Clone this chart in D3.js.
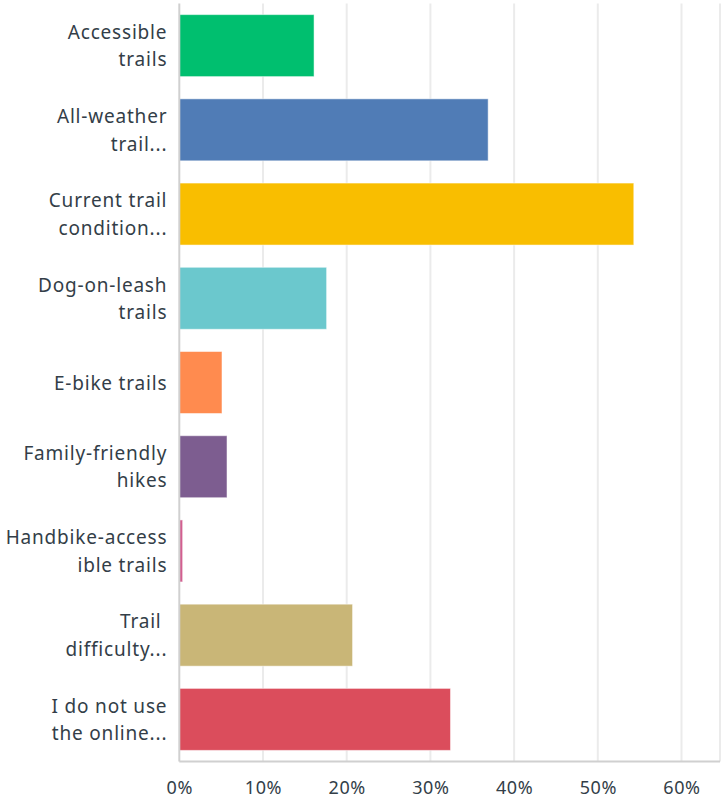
<!DOCTYPE html>
<html>
<head>
<meta charset="utf-8">
<script src="https://cdn.jsdelivr.net/npm/d3@7"></script>
<style>
body { margin: 0; background: #fff; }
text { font-family: "Noto Sans", "Open Sans", sans-serif; fill: #333e48; }
</style>
</head>
<body>
<div id="chart"></div>
<script>
// answer options (each label already wrapped into lines)
var labels = [
  ["Accessible", "trails"],
  ["All-weather", "trail..."],
  ["Current trail", "condition..."],
  ["Dog-on-leash", "trails"],
  ["E-bike trails"],
  ["Family-friendly", "hikes"],
  ["Handbike-access", "ible trails"],
  ["Trail ", "difficulty..."],
  ["I do not use", "the online..."]
];
var values = [0.161, 0.369, 0.543, 0.176, 0.051, 0.057, 0.004, 0.207, 0.324];
var colors = ["#00bf6f", "#507cb6", "#f9be00", "#6bc8cd", "#ff8b4f", "#7d5d90", "#d25f90", "#c9b677", "#db4d5c"];
var ticks = [0, 0.1, 0.2, 0.3, 0.4, 0.5, 0.6];

var svgWidth = 721;
var svgHeight = 800;
var margin = {top: 3.5, right: 1, bottom: 38.5, left: 179.3};
var width = svgWidth - margin.left - margin.right;
var height = svgHeight - margin.top - margin.bottom;

var svg = d3.select("#chart")
  .append("svg")
  .attr("width", svgWidth)
  .attr("height", svgHeight);

var chartGroup = svg.append("g")
  .attr("transform", `translate(${margin.left}, ${margin.top})`);

var xScale = d3.scaleLinear()
  .domain([0, 0.646])
  .range([0, width]);

var yScale = d3.scaleBand()
  .domain(d3.range(labels.length))
  .range([0, height])
  .paddingInner(0.264)
  .paddingOuter(0.132);

// gridlines
chartGroup.selectAll(".grid")
  .data(ticks.slice(1).concat([0.646]))
  .enter()
  .append("line")
  .attr("x1", d => xScale(d))
  .attr("x2", d => xScale(d))
  .attr("y1", 0)
  .attr("y2", height)
  .attr("stroke", "#ebebeb")
  .attr("stroke-width", 2);

// bars
chartGroup.selectAll("rect")
  .data(values)
  .enter()
  .append("rect")
  .attr("x", 0)
  .attr("y", (d, i) => yScale(i))
  .attr("width", d => xScale(d))
  .attr("height", yScale.bandwidth())
  .attr("fill", (d, i) => colors[i])
  .attr("stroke", "rgba(255,255,255,0.5)")
  .attr("stroke-width", 1);

// axis lines
chartGroup.append("line")
  .attr("x1", 0).attr("x2", 0)
  .attr("y1", 0).attr("y2", height)
  .attr("stroke", "#d0d0d0")
  .attr("stroke-width", 2);

chartGroup.append("line")
  .attr("x1", 0).attr("x2", width)
  .attr("y1", height).attr("y2", height)
  .attr("stroke", "#d0d0d0")
  .attr("stroke-width", 2);

// x tick labels
var bottomAxis = d3.axisBottom(xScale)
  .tickValues(ticks)
  .tickFormat(d3.format(".0%"))
  .tickSize(0)
  .tickPadding(20);

var xAxis = chartGroup.append("g")
  .attr("transform", `translate(0, ${height})`)
  .call(bottomAxis);
xAxis.select(".domain").remove();
xAxis.selectAll("text")
  .attr("fill", "#333e48")
  .style("font-size", "18px")
  .style("letter-spacing", "0.6px")
  .style("font-family", "'Noto Sans', sans-serif");

// y labels
var labelGroup = chartGroup.selectAll(".label")
  .data(labels)
  .enter()
  .append("text")
  .attr("class", "label")
  .attr("text-anchor", "end")
  .attr("xml:space", "preserve")
  .style("font-size", "19px")
  .style("letter-spacing", "0.8px")
  .attr("transform", (d, i) => `translate(-12, ${yScale(i) + yScale.bandwidth() / 2})`);

labelGroup.each(function(d) {
  var el = d3.select(this);
  var lh = 27.5;
  var start = -(d.length - 1) * lh / 2 + 7;
  d.forEach(function(line, j) {
    el.append("tspan")
      .attr("x", 0)
      .attr("y", start + j * lh)
      .text(line);
  });
});
</script>
</body>
</html>
